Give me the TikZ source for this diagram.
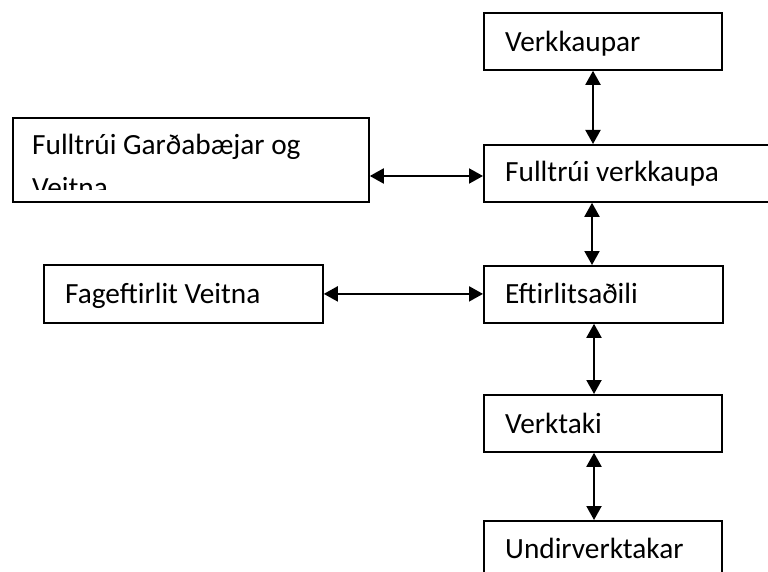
\documentclass[tikz,border=0pt]{standalone}
\usepackage{fontspec}
\setmainfont{Carlito}
\usetikzlibrary{arrows.meta}
\begin{document}
\begin{tikzpicture}[x=1pt,y=-1pt,
  box/.style={draw, line width=1.8pt, anchor=north west, inner sep=0pt},
  lbl/.style={anchor=base west, inner sep=0pt, font=\fontsize{29.3}{42}\selectfont},
  arr/.style={line width=2pt, {Triangle[length=14pt,width=15pt]}-{Triangle[length=14pt,width=15pt]}}]
\useasboundingbox (0,0) rectangle (768,572);
\clip (0,0) rectangle (768,572);
% boxes
\node[box, minimum width=238pt, minimum height=57pt] (verk) at (483,12) {};
\node[box, minimum width=300pt, minimum height=57pt] (full) at (483,144) {};
\node[box, minimum width=356pt, minimum height=84pt] (gard) at (12,117) {};
\node[box, minimum width=279pt, minimum height=58pt] (fag) at (43,264) {};
\node[box, minimum width=239pt, minimum height=57pt] (eft) at (483,265) {};
\node[box, minimum width=238pt, minimum height=57pt] (vtk) at (483,394) {};
\node[box, minimum width=238pt, minimum height=70pt] (und) at (483,520) {};
% labels
\node[lbl] (tverk) at (505,52) {Verkkaupar};
\node[lbl] (tfull) at (505,182) {Fulltrúi verkkaupa};
\node[lbl] (tgardA) at (32,155) {Fulltrúi Garðabæjar og};
\begin{scope}
\clip (14,119) rectangle (366,190);
\node[lbl] (tgardB) at (32,197) {Veitna};
\end{scope}
\node[lbl] (tfag) at (65,303) {Fageftirlit Veitna};
\node[lbl] (teft) at (505,303) {Eftirlitsaðili};
\node[lbl] (tvtk) at (505,433) {Verktaki};
\node[lbl] (tund) at (505,558) {Undirverktakar};
% connectors
\coordinate (c1) at (593,0);
\coordinate (c2) at (592,0);
\coordinate (c3) at (594,0);
\coordinate (h1) at (0,176);
\draw[arr] (verk.south -| c1) -- (full.north -| c1);
\draw[arr] (full.south -| c2) -- (eft.north -| c2);
\draw[arr] (eft.south -| c3) -- (vtk.north -| c3);
\draw[arr] (vtk.south -| c3) -- (und.north -| c3);
\draw[arr] (gard.east |- h1) -- (full.west |- h1);
\draw[arr] (fag.east) -- (eft.west |- fag.east);
\end{tikzpicture}
\end{document}
